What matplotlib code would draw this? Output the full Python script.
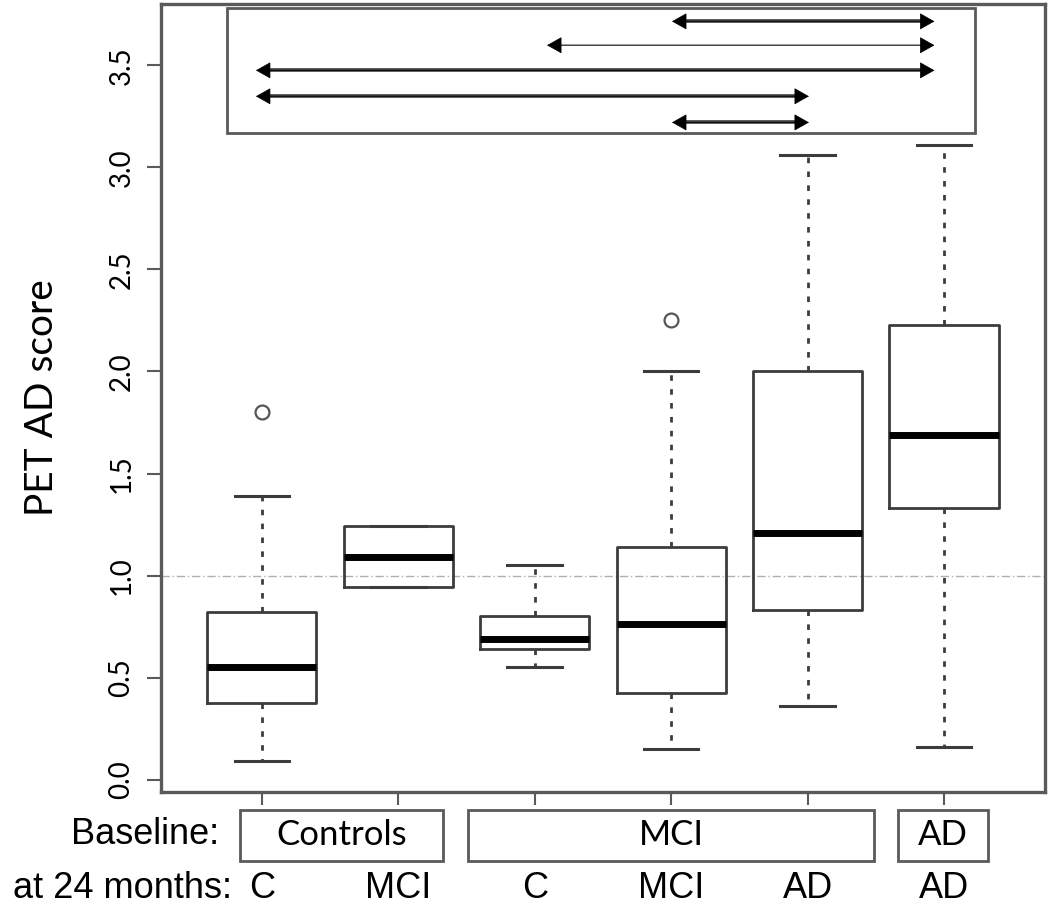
import matplotlib
matplotlib.use("Agg")
import matplotlib.pyplot as plt
from matplotlib.patches import Rectangle
from matplotlib.transforms import blended_transform_factory

# group labels (baseline) and outcome labels (at 24 months)
outcome = ["C", "MCI", "C", "MCI", "AD", "AD"]
baseline = ["Controls", "MCI", "AD"]
baseline_span = [(0.84, 2.33), (2.51, 5.49), (5.665, 6.32)]

# box statistics
q1 = [0.375, 0.946, 0.64, 0.425, 0.83, 1.33]
med = [0.55, 1.093, 0.69, 0.765, 1.21, 1.69]
q3 = [0.82, 1.245, 0.80, 1.14, 2.00, 2.23]
whislo = [0.09, 0.946, 0.55, 0.15, 0.36, 0.16]
whishi = [1.39, 1.245, 1.05, 2.00, 3.06, 3.11]
fliers = [[1.80], [], [], [2.25], [], []]

# significant pairwise differences (from, to, y level)
pairs_from = [4.006, 3.09, 0.956, 0.956, 4.006]
pairs_to = [5.93, 5.93, 5.93, 5.01, 5.01]
pairs_y = [3.715, 3.598, 3.475, 3.348, 3.22]

EDGE = "#3c3c3c"
FRAME = "#5a5a5a"

fig = plt.figure(figsize=(10.5, 9.11), dpi=100)
ax = fig.add_axes([0.1533, 0.1306, 0.8419, 0.865])

stats = []
for i in range(len(outcome)):
    stats.append(dict(q1=q1[i], med=med[i], q3=q3[i], whislo=whislo[i],
                      whishi=whishi[i], fliers=fliers[i], label=outcome[i]))

ax.bxp(stats, positions=range(1, 7), widths=0.8, capwidths=0.4,
       boxprops=dict(color=EDGE, linewidth=2),
       medianprops=dict(color="black", linewidth=5, solid_capstyle="butt"),
       whiskerprops=dict(color=EDGE, linewidth=2, linestyle=(0, (2, 3))),
       capprops=dict(color=EDGE, linewidth=2.2),
       flierprops=dict(marker="o", markerfacecolor="none", markeredgecolor="#555555",
                       markersize=10, markeredgewidth=1.6))

ax.axhline(1.0, color="#b0b0b0", linewidth=1, linestyle=(0, (6, 2, 1, 2)), zorder=0)

# box around the significance arrows
ax.add_patch(Rectangle((0.745, 3.17), 6.23 - 0.745, 3.78 - 3.17, fill=False,
                       edgecolor=FRAME, linewidth=2))
for i in range(len(pairs_y)):
    lc = "#a8a8a8" if i == 1 else "#3a3a3a"
    lw = 1.3 if i == 1 else 2.6
    ax.hlines(pairs_y[i], pairs_from[i] + 0.06, pairs_to[i] - 0.06, color=lc, linewidth=lw)
    ax.annotate("", xy=(pairs_to[i], pairs_y[i]), xytext=(pairs_from[i], pairs_y[i]),
                arrowprops=dict(arrowstyle="<|-|>,head_length=0.48,head_width=0.27",
                                mutation_scale=20, shrinkA=0, shrinkB=0,
                                color="black", linewidth=0.5))

ax.set_xlim(0.26, 6.74)
ax.set_ylim(-0.06, 3.80)
ax.set_yticks([0.0, 0.5, 1.0, 1.5, 2.0, 2.5, 3.0, 3.5])
ax.set_yticklabels(["0.0", "0.5", "1.0", "1.5", "2.0", "2.5", "3.0", "3.5"],
                   rotation=90, va="center", family="Lato", fontsize=20)
ax.set_xticks(range(1, 7))
ax.set_xticklabels([])
ax.tick_params(axis="y", length=10, width=1.5, color=FRAME, pad=9)
ax.tick_params(axis="x", length=9, width=1.5, color=FRAME)
for s in ax.spines.values():
    s.set_color(FRAME)
    s.set_linewidth(2.4)

fig.text(42 / 1050, 1 - 398 / 911, "PET AD score", rotation=90, ha="center",
         va="center", family="Lato", fontsize=28)

tr = blended_transform_factory(ax.transData, fig.transFigure)
fig.text(219 / 1050, 1 - 834 / 911, "Baseline:", ha="right", va="center",
         family="Liberation Sans", fontsize=26)
fig.text(232 / 1050, 1 - 888 / 911, "at 24 months:", ha="right", va="center",
         family="Liberation Sans", fontsize=26)
for i, (x0, x1) in enumerate(baseline_span):
    fig.patches.append(Rectangle((x0, 1 - 861 / 911), x1 - x0, 51 / 911, transform=tr,
                                 fill=False, edgecolor=FRAME, linewidth=2))
    fig.text((x0 + x1) / 2, 1 - 835 / 911, baseline[i], transform=tr, ha="center",
             va="center", family="Lato", fontsize=25)
for i, lab in enumerate(outcome):
    fig.text(i + 1, 1 - 888 / 911, lab, transform=tr, ha="center", va="center",
             family="Liberation Sans", fontsize=26)

fig.savefig("out.png", dpi=100)
